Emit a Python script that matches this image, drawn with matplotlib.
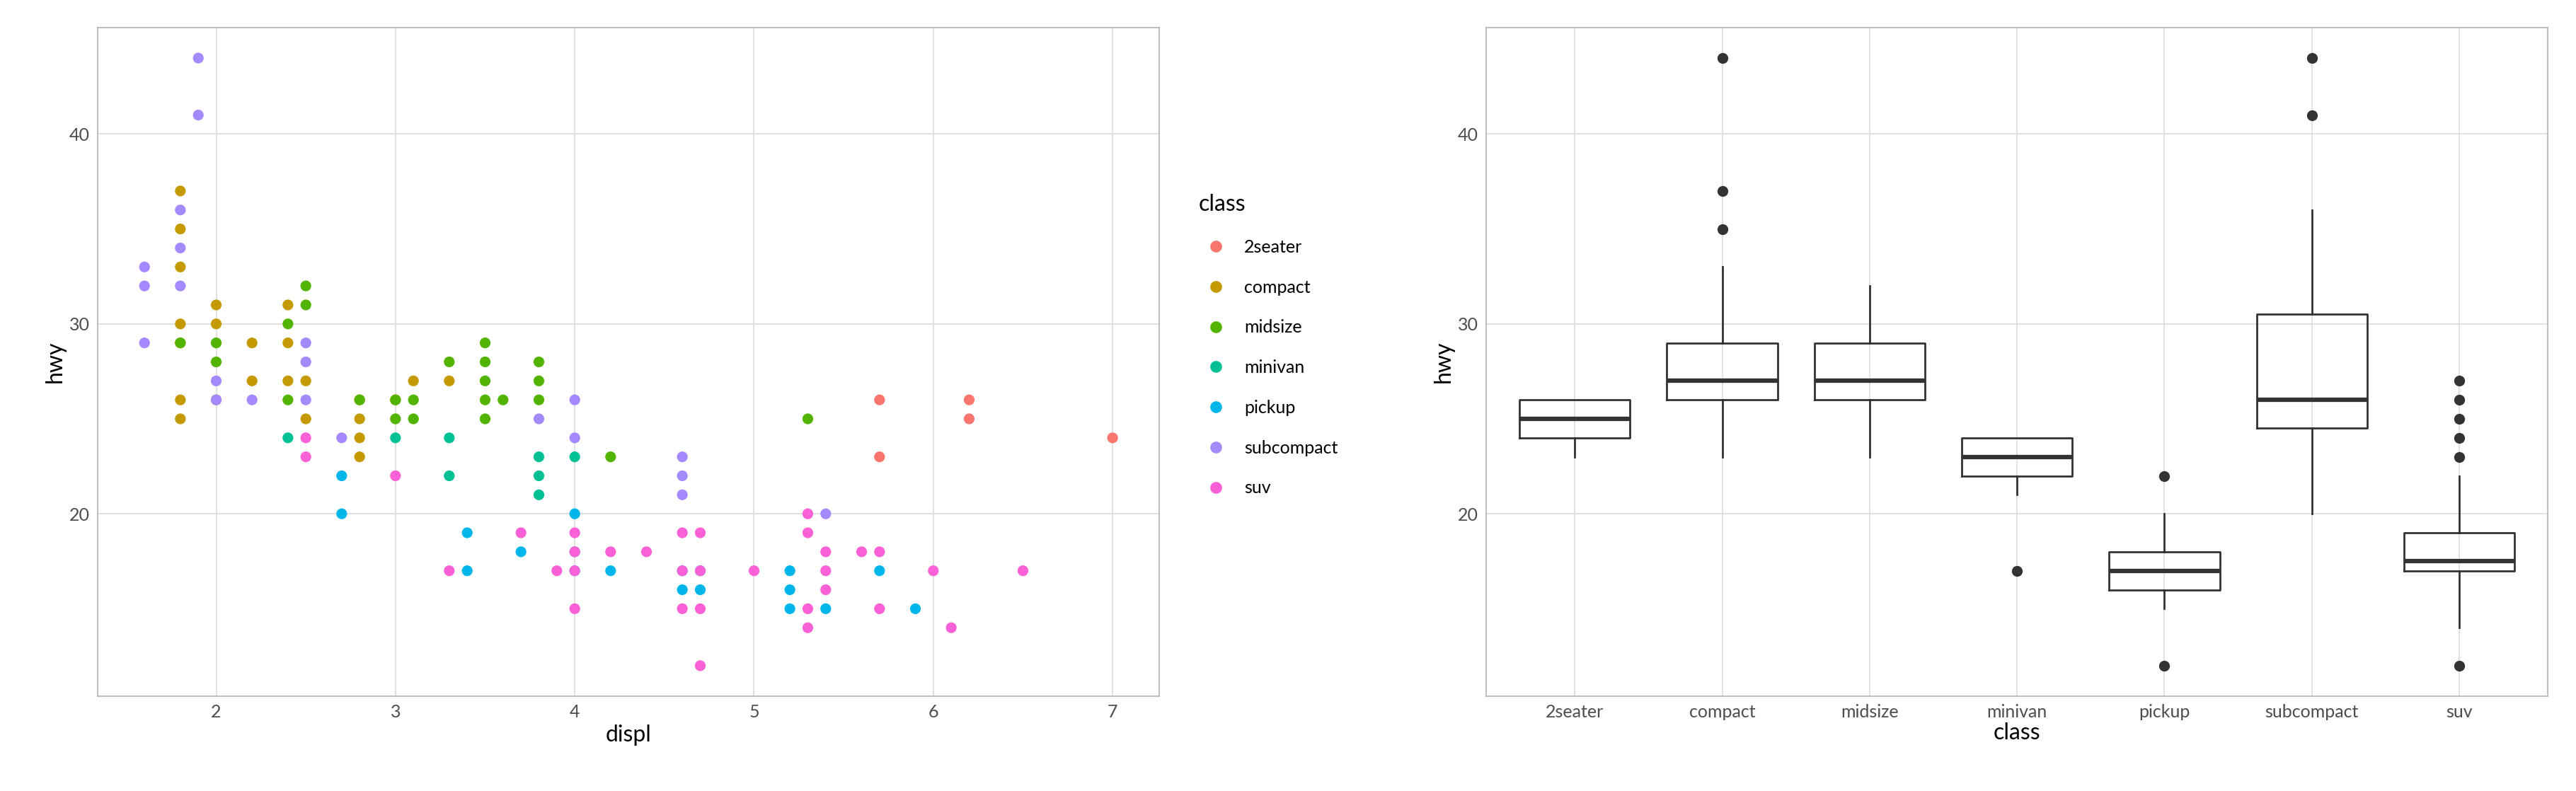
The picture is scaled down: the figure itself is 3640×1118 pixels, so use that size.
import numpy as np
import matplotlib.pyplot as plt
from matplotlib.lines import Line2D

plt.rcParams['font.family'] = ['Lato', 'DejaVu Sans']

classes = ['2seater', 'compact', 'midsize', 'minivan', 'pickup', 'subcompact', 'suv']
colors = ['#F8766D', '#C49A00', '#53B400', '#00C094', '#00B6EB', '#A58AFF', '#FB61D7']

# displ / hwy points, per class
displ = {
    '2seater': [5.7, 5.7, 6.2, 6.2, 7.0],
    'compact': [1.8, 1.8, 1.8, 1.8, 1.8, 1.8, 1.8, 2.0, 2.0, 2.0, 2.2, 2.2, 2.4, 2.4, 2.4,
                2.5, 2.5, 2.8, 2.8, 2.8, 2.8, 3.0, 3.1, 3.3],
    'midsize': [1.8, 2.0, 2.0, 2.4, 2.4, 2.5, 2.5, 2.8, 3.0, 3.0, 3.1, 3.1, 3.3, 3.5, 3.5,
                3.5, 3.5, 3.5, 3.6, 3.8, 3.8, 3.8, 4.2, 5.3],
    'minivan': [2.4, 3.0, 3.3, 3.3, 3.8, 3.8, 3.8, 4.0],
    'pickup': [2.7, 2.7, 3.4, 3.4, 3.7, 4.0, 4.0, 4.0, 4.2, 4.6, 4.6, 4.7, 4.7, 5.2, 5.2,
               5.2, 5.4, 5.7, 5.9],
    'subcompact': [1.6, 1.6, 1.6, 1.8, 1.8, 1.8, 1.9, 1.9, 2.0, 2.0, 2.2, 2.5, 2.5, 2.5,
                   2.7, 3.8, 4.0, 4.0, 4.6, 4.6, 4.6, 5.4],
    'suv': [2.5, 2.5, 3.0, 3.3, 3.7, 3.9, 4.0, 4.0, 4.0, 4.0, 4.2, 4.4, 4.6, 4.6, 4.6,
            4.7, 4.7, 4.7, 4.7, 5.0, 5.3, 5.3, 5.3, 5.3, 5.4, 5.4, 5.4, 5.6, 5.7, 5.7,
            6.0, 6.1, 6.5],
}
hwy = {
    '2seater': [26, 23, 26, 25, 24],
    'compact': [37, 35, 33, 30, 29, 26, 25, 31, 30, 26, 29, 27, 31, 29, 27,
                27, 25, 26, 25, 24, 23, 26, 27, 27],
    'midsize': [29, 29, 28, 30, 26, 32, 31, 26, 26, 25, 26, 25, 28, 29, 28,
                27, 26, 25, 26, 28, 27, 26, 23, 25],
    'minivan': [24, 24, 24, 22, 23, 22, 21, 23],
    'pickup': [22, 20, 19, 17, 18, 20, 18, 17, 17, 17, 16, 17, 16, 17, 16,
               15, 15, 17, 15],
    'subcompact': [33, 32, 29, 36, 34, 32, 44, 41, 27, 26, 26, 29, 28, 26,
                   24, 25, 26, 24, 23, 22, 21, 20],
    'suv': [24, 23, 22, 17, 19, 17, 19, 18, 17, 15, 18, 18, 19, 17, 15,
            19, 17, 15, 12, 17, 20, 19, 15, 14, 18, 17, 16, 18, 18, 15,
            17, 14, 17],
}

# box statistics
q1 = [24, 26, 26, 22, 16, 24.5, 17]
med = [25, 27, 27, 23, 17, 26, 17.5]
q3 = [26, 29, 29, 24, 18, 30.5, 19]
whislo = [23, 23, 23, 21, 15, 20, 14]
whishi = [26, 33, 32, 24, 20, 36, 22]
fliers = [[], [44, 37, 35], [], [17], [22, 12], [44, 41], [27, 26, 25, 24, 23, 12]]


def style(ax):
    ax.set_facecolor('white')
    for s in ax.spines.values():
        s.set_color('#B3B3B3')
        s.set_linewidth(1.2)
    ax.grid(True, which='major', color='#DEDEDE', lw=1.3)
    ax.set_axisbelow(True)
    ax.tick_params(which='both', length=0, labelsize=18, labelcolor='#4D4D4D', pad=8)


fig = plt.figure(figsize=(36.4, 11.18), dpi=100)
ax1 = fig.add_axes([0.038, 0.12, 0.412, 0.845])
ax2 = fig.add_axes([0.577, 0.12, 0.412, 0.845])

style(ax1)
for c, col in zip(classes, colors):
    ax1.scatter(displ[c], hwy[c], s=120, color=col, edgecolors='none', zorder=3)
ax1.set_xlim(1.34, 7.26)
ax1.set_ylim(10.4, 45.6)
ax1.set_xticks([2, 3, 4, 5, 6, 7])
ax1.set_yticks([20, 30, 40])
ax1.set_xlabel('displ', fontsize=23)
ax1.set_ylabel('hwy', fontsize=23)

handles = [Line2D([], [], marker='o', ls='', color=col, markersize=11) for col in colors]
fig.legend(handles, classes, title='class', loc='upper left', bbox_to_anchor=(0.459, 0.775),
           frameon=False, fontsize=18, title_fontsize=23, labelspacing=1.35,
           handletextpad=0.6, alignment='left')

style(ax2)
stats = []
for i, c in enumerate(classes):
    stats.append(dict(label=c, q1=q1[i], med=med[i], q3=q3[i],
                      whislo=whislo[i], whishi=whishi[i], fliers=fliers[i]))
ax2.bxp(stats, positions=np.arange(1, 8), widths=0.75,
        boxprops=dict(color='#333333', lw=2),
        medianprops=dict(color='#333333', lw=4.5),
        whiskerprops=dict(color='#333333', lw=2),
        capprops=dict(lw=0),
        flierprops=dict(marker='o', markerfacecolor='#333333', markeredgecolor='none',
                        markersize=11))
ax2.set_xlim(0.4, 7.6)
ax2.set_ylim(10.4, 45.6)
ax2.set_yticks([20, 30, 40])
ax2.set_xlabel('class', fontsize=23, labelpad=2)
ax2.set_ylabel('hwy', fontsize=23)

fig.savefig('out.png', dpi=100, facecolor='white')
